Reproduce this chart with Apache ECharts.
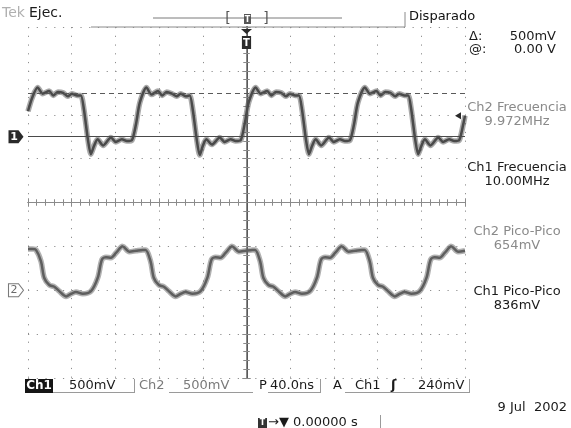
<!DOCTYPE html>
<html>
<head>
<meta charset="utf-8">
<title>Tek</title>
<script src="https://cdn.jsdelivr.net/npm/echarts@6/dist/echarts.min.js"></script>
<style>
    html, body { margin: 0; padding: 0; background: #ffffff; }
    #main { width: 571px; height: 428px; }
</style>
</head>
<body>
<div id="main"></div>
<script>
// time in ns (40 ns/div, trigger at centre), voltages in V (500 mV/div)
var timeRange = [-200, 200];
var divRange = [-4, 4];
var ch1Range = [-2.75, 1.25]; // ground 1.5 div above centre
var ch2Range = [-1.0, 3.0];   // ground 2 div below centre
var cursorLevels = [0, 0.5];
var triggerLevel = 0.24;

var ch1Trace = [
    [-200, 0.29], [-196, 0.45], [-191.2, 0.56], [-186.6, 0.49], [-180.6, 0.52], [-176.9, 0.47],
    [-172.6, 0.51], [-167.8, 0.50], [-163.5, 0.46], [-159.8, 0.49], [-155, 0.47], [-151.6, 0.47],
    [-148.8, 0.31], [-145.2, -0.03], [-142.4, -0.20], [-139.7, -0.11], [-136.3, -0.03], [-131.2, -0.10],
    [-124.1, -0.01], [-119.6, -0.06], [-114.1, -0.03], [-109.5, -0.05], [-104.9, -0.04], [-101.2, 0.14],
    [-97.6, 0.39],
    [-91.6, 0.56], [-87, 0.48], [-81, 0.52], [-77.3, 0.47], [-73, 0.51], [-68.2, 0.49],
    [-63.9, 0.46], [-60.2, 0.49], [-55.4, 0.46], [-52, 0.47], [-49.2, 0.31], [-45.6, -0.03],
    [-42.8, -0.21], [-40.1, -0.11], [-36.7, -0.03], [-31.6, -0.09], [-24.5, -0.01], [-20, -0.06],
    [-14.5, -0.03], [-9.9, -0.05], [-5.3, -0.04], [-1.6, 0.15], [2, 0.39],
    [8.4, 0.56], [13, 0.49], [19, 0.52], [22.7, 0.47], [27, 0.51], [31.8, 0.50],
    [36.1, 0.46], [39.8, 0.49], [44.6, 0.47], [48, 0.47], [50.8, 0.31], [54.4, -0.03],
    [57.2, -0.20], [59.9, -0.11], [63.3, -0.03], [68.4, -0.10], [75.5, -0.01], [80, -0.06],
    [85.5, -0.03], [90.1, -0.05], [94.7, -0.04], [98.4, 0.14], [102, 0.39],
    [108.4, 0.56], [113, 0.49], [119, 0.52], [122.7, 0.47], [127, 0.51], [131.8, 0.50],
    [136.1, 0.46], [139.8, 0.49], [144.6, 0.47], [148, 0.47], [150.8, 0.31], [154.4, -0.03],
    [157.2, -0.20], [159.9, -0.11], [163.3, -0.03], [168.4, -0.10], [175.5, -0.01], [180, -0.06],
    [185.5, -0.03], [190.1, -0.05], [194.7, -0.04], [198.4, 0.14], [200, 0.24]
];

var ch2Trace = [
    [-200, 0.47], [-196, 0.47], [-192.7, 0.46], [-188.1, 0.33], [-185.1, 0.14], [-180.5, 0.06],
    [-175.9, 0.04], [-171.4, -0.01], [-165.2, -0.07], [-160.5, -0.04], [-156.1, -0.02], [-149.9, -0.04],
    [-142.3, -0.01], [-136.2, 0.14], [-132.3, 0.35], [-128.6, 0.375], [-124, 0.37], [-119.5, 0.425],
    [-113.3, 0.50], [-107.3, 0.44], [-101.1, 0.45], [-95, 0.46],
    [-92.4, 0.46], [-87.8, 0.33], [-84.8, 0.14], [-80.2, 0.06], [-75.6, 0.04], [-71.1, -0.01],
    [-64.9, -0.07], [-60.2, -0.04], [-55.8, -0.02], [-49.6, -0.04], [-42, -0.01], [-35.9, 0.14],
    [-32, 0.35], [-28.3, 0.375], [-23.7, 0.37], [-19.2, 0.425], [-13, 0.50], [-7, 0.44],
    [-0.8, 0.45], [5.3, 0.46],
    [7.9, 0.46], [12.5, 0.33], [15.5, 0.14], [20.1, 0.06], [24.7, 0.04], [29.2, -0.01],
    [35.4, -0.07], [40.1, -0.04], [44.5, -0.02], [50.7, -0.04], [58.3, -0.01], [64.4, 0.14],
    [68.3, 0.35], [72, 0.375], [76.6, 0.37], [81.1, 0.425], [87.3, 0.50], [93.3, 0.44],
    [99.5, 0.45], [105.6, 0.46],
    [108.2, 0.46], [112.8, 0.33], [115.8, 0.14], [120.4, 0.06], [125, 0.04], [129.5, -0.01],
    [135.7, -0.07], [140.4, -0.04], [144.8, -0.02], [151, -0.04], [158.6, -0.01], [164.7, 0.14],
    [168.6, 0.35], [172.3, 0.375], [176.9, 0.37], [181.4, 0.425], [187.6, 0.50], [193.6, 0.44],
    [200, 0.45]
];

var measureLabels = ["Ch2 Frecuencia", "Ch1 Frecuencia", "Ch2 Pico-Pico", "Ch1 Pico-Pico"];
var measureValues = ["9.972MHz", "10.00MHz", "654mV", "836mV"];

var FONT = '"DejaVu Sans", "Liberation Sans", sans-serif';
var GRID_DOT = "#8e8e8e";

function txt(x, y, s, fill, size, align, weight) {
    return {
        type: "text",
        x: x,
        y: y,
        style: {
            text: s,
            fill: fill || "#1a1a1a",
            font: (weight || "normal") + " " + (size || 13) + "px " + FONT,
            align: align || "left",
            verticalAlign: "middle",
        },
    };
}

function seg(x1, y1, x2, y2, color, width) {
    return {
        type: "line",
        shape: { x1: x1, y1: y1, x2: x2, y2: y2 },
        style: { stroke: color || "#888", lineWidth: width || 1 },
    };
}

function rulerAxis(extra) {
    var base = {
        type: "value",
        min: timeRange[0],
        max: timeRange[1],
        interval: 40,
        axisLabel: { show: false },
        axisLine: { show: true, lineStyle: { color: "#8a8a8a", width: 1 } },
        axisTick: { show: true, inside: true, length: 4, lineStyle: { color: "#8a8a8a" } },
        minorTick: { show: true, splitNumber: 5, length: 3, lineStyle: { color: "#8a8a8a" } },
        splitLine: { show: false },
    };
    return Object.assign(base, extra);
}

function divAxis(extra) {
    var base = {
        type: "value",
        min: divRange[0],
        max: divRange[1],
        interval: 1,
        axisLabel: { show: false },
        axisLine: { show: true, lineStyle: { color: "#8a8a8a", width: 1 } },
        axisTick: { show: true, inside: true, length: 4, lineStyle: { color: "#8a8a8a" } },
        minorTick: { show: true, splitNumber: 5, length: 3, lineStyle: { color: "#8a8a8a" } },
        splitLine: { show: false },
    };
    return Object.assign(base, extra);
}

var measureText = [];
var measureY = [108, 168, 232, 292];
for (var i = 0; i < measureLabels.length; i++) {
    var col = measureLabels[i].indexOf("Ch2") === 0 ? "#8a8a8a" : "#1a1a1a";
    measureText.push(txt(517, measureY[i], measureLabels[i], col, 13, "center"));
    measureText.push(txt(517, measureY[i] + 14, measureValues[i], col, 13, "center"));
}

var option = {
    backgroundColor: "#ffffff",
    animation: false,
    grid: { left: 28, right: 106, top: 27, bottom: 50, containLabel: false },
    xAxis: [
        rulerAxis({
            position: "bottom",
            splitLine: { show: true, lineStyle: { color: GRID_DOT, width: 1, type: [1.2, 7.54] } },
        }),
        rulerAxis({ position: "top", axisLine: { show: false } }),
        rulerAxis({
            position: "bottom",
            axisLine: { show: true, onZero: true, onZeroAxisIndex: 0, lineStyle: { color: "#8a8a8a" } },
            axisTick: { show: true, inside: true, length: 4, lineStyle: { color: "#8a8a8a" } },
        }),
        rulerAxis({
            position: "bottom",
            axisLine: { show: true, onZero: true, onZeroAxisIndex: 0, lineStyle: { color: "#8a8a8a" } },
            axisTick: { show: true, inside: false, length: 4, lineStyle: { color: "#8a8a8a" } },
            minorTick: { show: true, splitNumber: 5, length: 3, lineStyle: { color: "#8a8a8a" } },
        }),
    ],
    yAxis: [
        divAxis({
            position: "left",
            splitLine: { show: true, lineStyle: { color: GRID_DOT, width: 1, type: [1.2, 7.54] } },
        }),
        divAxis({
            position: "right",
            axisLine: { show: true, lineStyle: { color: "#5a5a5a", width: 2 } },
        }),
        { type: "value", min: ch1Range[0], max: ch1Range[1], show: false },
        { type: "value", min: ch2Range[0], max: ch2Range[1], show: false },
        divAxis({
            position: "left",
            axisLine: { show: true, onZero: true, onZeroAxisIndex: 0, lineStyle: { color: "#8a8a8a" } },
        }),
        divAxis({
            position: "left",
            axisLine: { show: true, onZero: true, onZeroAxisIndex: 0, lineStyle: { color: "#8a8a8a" } },
            axisTick: { show: true, inside: false, length: 4, lineStyle: { color: "#8a8a8a" } },
        }),
    ],
    series: [
        {
            name: "Ch1 halo",
            type: "line",
            yAxisIndex: 2,
            data: ch1Trace,
            smooth: 0.25,
            showSymbol: false,
            lineStyle: { color: "rgba(85,85,85,0.5)", width: 5.5 },
            silent: true,
        },
        {
            name: "Ch1",
            type: "line",
            yAxisIndex: 2,
            data: ch1Trace,
            smooth: 0.25,
            showSymbol: false,
            lineStyle: { color: "#4a4a4a", width: 2.5 },
            markLine: {
                silent: true,
                symbol: "none",
                label: { show: false },
                data: [
                    { yAxis: cursorLevels[0], lineStyle: { color: "#4a4a4a", width: 1, type: "solid" } },
                    { yAxis: cursorLevels[1], lineStyle: { color: "#5a5a5a", width: 1.2, type: [5, 4] } },
                ],
            },
            markPoint: {
                silent: true,
                data: [
                    {
                        coord: [timeRange[0], 0],
                        symbol: "path://M0,0 L10,0 L15,6 L10,12 L0,12 Z",
                        symbolSize: [15, 13],
                        symbolOffset: [-12, 0],
                        itemStyle: { color: "#2a2a2a" },
                        label: { show: true, formatter: "1", color: "#ffffff", fontWeight: "bold", fontSize: 11, fontFamily: FONT, offset: [-2, 0] },
                    },
                    {
                        coord: [timeRange[1], triggerLevel],
                        symbol: "triangle",
                        symbolRotate: 90,
                        symbolSize: [7, 6],
                        symbolOffset: [-7, 0],
                        itemStyle: { color: "#2a2a2a" },
                        label: { show: false },
                    },
                    {
                        coord: [0, ch1Range[1]],
                        symbol: "path://M0,0 L12,0 L6,5 Z M1,7 L11,7 L11,20 L1,20 Z",
                        symbolSize: [11, 20],
                        symbolOffset: [0, 12],
                        itemStyle: { color: "#2a2a2a" },
                        label: { show: true, formatter: "T", color: "#ffffff", fontWeight: "bold", fontSize: 10, fontFamily: FONT, offset: [0, 4] },
                    },
                ],
            },
        },
        {
            name: "Ch2 halo",
            type: "line",
            yAxisIndex: 3,
            data: ch2Trace,
            smooth: 0.3,
            showSymbol: false,
            lineStyle: { color: "rgba(100,100,100,0.5)", width: 5.5 },
            silent: true,
        },
        {
            name: "Ch2",
            type: "line",
            yAxisIndex: 3,
            data: ch2Trace,
            smooth: 0.3,
            showSymbol: false,
            lineStyle: { color: "#5e5e5e", width: 2.5 },
            markPoint: {
                silent: true,
                data: [
                    {
                        coord: [timeRange[0], 0],
                        symbol: "path://M0,0 L10,0 L15,6 L10,12 L0,12 Z",
                        symbolSize: [15, 13],
                        symbolOffset: [-12, 0],
                        itemStyle: { color: "#ffffff", borderColor: "#7a7a7a", borderWidth: 1 },
                        label: { show: true, formatter: "2", color: "#6a6a6a", fontSize: 11, fontFamily: FONT, offset: [-2, 0] },
                    },
                ],
            },
        },
    ],
    graphic: [
        // header
        txt(2, 13, "Tek", "#b0b0b0", 14, "left"),
        txt(29, 13, "Ejec.", "#1a1a1a", 14),
        seg(153, 18, 342, 18, "#7a7a7a", 1),
        txt(228, 18, "[", "#555", 14, "center"),
        txt(266, 18, "]", "#555", 14, "center"),
        { type: "rect", shape: { x: 244, y: 14, width: 7, height: 10 }, style: { fill: "#555" } },
        txt(247.5, 19.5, "T", "#ffffff", 8, "center", "bold"),
        seg(91, 27, 405, 27, "#8a8a8a", 1),
        seg(405, 12, 405, 27, "#8a8a8a", 1),
        txt(409, 17, "Disparado", "#111111", 13),
        txt(469, 37, "\u0394:", "#1a1a1a", 13),
        txt(556, 37, "500mV", "#1a1a1a", 13, "right"),
        txt(469, 50, "@:", "#1a1a1a", 13),
        txt(556, 50, "0.00 V", "#1a1a1a", 13, "right"),
        // status row
        { type: "rect", shape: { x: 25, y: 379, width: 28, height: 14 }, style: { fill: "#151515" } },
        txt(39, 386, "Ch1", "#ffffff", 12, "center", "bold"),
        txt(69, 386, "500mV", "#1a1a1a", 13),
        seg(53, 392.5, 134, 392.5, "#9a9a9a", 1),
        seg(134.5, 379, 134.5, 393, "#9a9a9a", 1),
        txt(139, 386, "Ch2", "#7a7a7a", 13),
        txt(183, 386, "500mV", "#7a7a7a", 13),
        seg(169, 392.5, 253, 392.5, "#9a9a9a", 1),
        txt(259, 386, "P", "#1a1a1a", 13),
        txt(270, 386, "40.0ns", "#1a1a1a", 13),
        seg(268, 392.5, 320, 392.5, "#9a9a9a", 1),
        seg(320.5, 379, 320.5, 393, "#9a9a9a", 1),
        txt(333, 386, "A", "#1a1a1a", 13),
        txt(355, 386, "Ch1", "#1a1a1a", 13),
        txt(391, 386, "\u0283", "#1a1a1a", 13, "left", "bold"),
        txt(418, 386, "240mV", "#1a1a1a", 13),
        seg(345, 392.5, 469, 392.5, "#9a9a9a", 1),
        seg(469.5, 379, 469.5, 393, "#9a9a9a", 1),
        txt(567, 408, "9 Jul  2002", "#1a1a1a", 13, "right"),
        { type: "rect", shape: { x: 258, y: 418, width: 9, height: 10 }, style: { fill: "#333" } },
        txt(262.5, 423, "T", "#ffffff", 8, "center", "bold"),
        txt(268, 423, "\u2192\u25BC 0.00000 s", "#1a1a1a", 13),
        seg(380.5, 415, 380.5, 428, "#9a9a9a", 1),
    ].concat(measureText),
};

var chart = echarts.init(document.getElementById("main"), null, { renderer: "canvas" });
chart.setOption(option);
</script>
</body>
</html>
